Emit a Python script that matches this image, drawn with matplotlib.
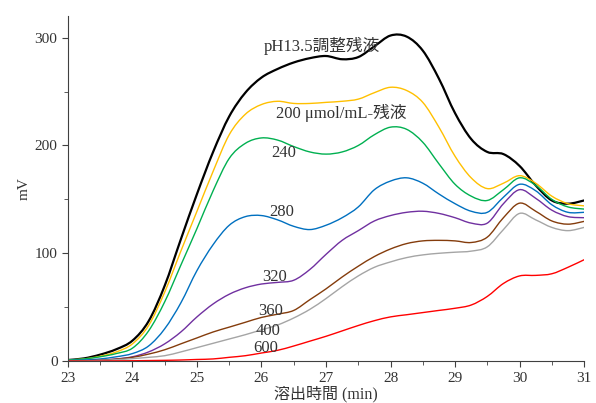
import numpy as np
import matplotlib
matplotlib.use("Agg")
import matplotlib.pyplot as plt
from matplotlib.path import Path
from matplotlib.patches import PathPatch
from matplotlib.ticker import MultipleLocator

plt.rcParams['font.family'] = ['Liberation Serif', 'Noto Sans CJK JP']

# elution time (min)
t = [23.0, 23.25, 23.5, 23.75, 24.0, 24.25, 24.5, 24.75, 25.0, 25.25, 25.5,
     25.75, 26.0, 26.25, 26.5, 26.75, 27.0, 27.25, 27.5, 27.75, 28.0, 28.25,
     28.5, 28.75, 29.0, 29.25, 29.5, 29.75, 30.0, 30.25, 30.5, 30.75, 31.0]

# signals (mV)
ph135 = [1, 2.5, 6, 11, 19, 37, 70, 113, 155, 194, 227, 249, 263, 271, 277, 281,
         283, 280, 282, 292, 302, 301, 288, 262, 230, 206, 194, 192, 181, 163,
         149, 146, 149]
c200 = [1, 2, 4.5, 8.5, 16, 33, 64, 102, 139, 176, 210, 229, 238, 241, 239, 239,
        240, 241, 243, 249, 254, 251, 240, 217, 190, 170, 160, 165, 172, 165,
        153, 146, 144]
c240 = [1, 2, 4, 7, 12, 28, 55, 89, 123, 158, 188, 202, 207, 205, 199, 194, 192,
        194, 200, 210, 217, 215, 203, 183, 164, 153, 149, 159, 170, 163, 150,
        143, 141]
c280 = [0.5, 1, 2, 4, 7, 14, 30, 54, 84, 108, 126, 134, 135, 131, 125, 122,
        126, 133, 143, 159, 167, 170, 165, 155, 146, 139, 138, 152, 164, 158,
        145, 138, 138]
c320 = [0, 0.3, 0.8, 2, 4, 8.5, 16, 27, 41, 53, 62, 68, 71.5, 73, 75, 85, 99,
        112, 121, 130, 135, 138, 139, 137, 133, 128, 128, 146, 159, 151, 140,
        134, 133]
c360 = [0, 0.3, 0.8, 1.8, 3.5, 6.5, 10.5, 16, 21.5, 27, 31.5, 36, 40.5, 43.5, 47,
        57, 67, 78, 88, 97, 104, 109, 111.5, 112, 111.5, 110, 115, 133, 146.5,
        139, 130, 127, 129.6]
c400 = [0, 0.2, 0.6, 1.3, 2.3, 3.5, 5, 8.5, 12.5, 16.5, 20.5, 24.5, 29, 33.5, 40,
        48, 58, 69, 79, 87, 92, 96, 98.5, 100, 101, 102, 106, 122, 137, 131, 124,
        121, 124]
c600 = [0, 0, 0, 0.2, 0.3, 0.5, 0.7, 1, 1.5, 2, 3.5, 5, 7.5, 10, 14, 18.5, 23,
        28, 33, 37.5, 41, 43, 45, 47, 49, 52, 60, 72, 79, 79.5, 81, 87, 94]

series = [ph135, c200, c240, c280, c320, c360, c400, c600]
colors = ['#000000', '#FFC000', '#00B050', '#0070C0', '#7030A0', '#843C0C',
          '#A5A5A5', '#FF0000']
widths = [1.6, 1.0, 1.0, 1.0, 1.0, 1.0, 1.0, 1.0]

labels = ['pH13.5調整残液', '200 μmol/mL-残液', '240', '280', '320', '360',
          '400', '600']
label_x = [26.93, 27.24, 26.35, 26.31, 26.2, 26.14, 26.1, 26.07]
label_y = [292, 230, 193, 138, 78, 46, 28, 12]


def smooth_path(x, y):
    # smoothed line through the points (Catmull-Rom as cubic Bezier)
    p = np.column_stack([x, y]).astype(float)
    ext = np.vstack([p[0], p, p[-1]])
    verts = [p[0]]
    codes = [Path.MOVETO]
    for i in range(len(p) - 1):
        p0, p1, p2, p3 = ext[i], ext[i + 1], ext[i + 2], ext[i + 3]
        verts += [p1 + (p2 - p0) / 6, p2 - (p3 - p1) / 6, p2]
        codes += [Path.CURVE4] * 3
    return Path(verts, codes)


fig = plt.figure(figsize=(5.96, 4.03), dpi=100)
ax = fig.add_axes([0.114, 0.104, 0.866, 0.856])

for s, c, w in zip(series, colors, widths):
    ax.add_patch(PathPatch(smooth_path(t, s), fill=False, edgecolor=c, lw=w,
                           capstyle='round', joinstyle='round'))

for lab, x, y in zip(labels, label_x, label_y):
    ax.text(x, y, lab, ha='center', va='center', fontsize=12, color='#333333')

ax.set_xlim(23, 31)
ax.set_ylim(0, 320)
ax.xaxis.set_major_locator(MultipleLocator(1))
ax.xaxis.set_minor_locator(MultipleLocator(0.5))
ax.yaxis.set_major_locator(MultipleLocator(100))
ax.yaxis.set_minor_locator(MultipleLocator(50))
ax.tick_params(which='both', direction='out', color='#404040',
               labelcolor='#333333', labelsize=11)
ax.tick_params(which='major', length=4)
ax.tick_params(which='minor', length=3)

for side in ['top', 'right']:
    ax.spines[side].set_visible(False)
for side in ['left', 'bottom']:
    ax.spines[side].set_color('#404040')

ax.set_xlabel('溶出時間 (min)', fontsize=11.5, color='#333333', labelpad=1)
ax.set_ylabel('mV', fontsize=11, color='#333333', labelpad=3)

fig.savefig('out.png', dpi=100)
